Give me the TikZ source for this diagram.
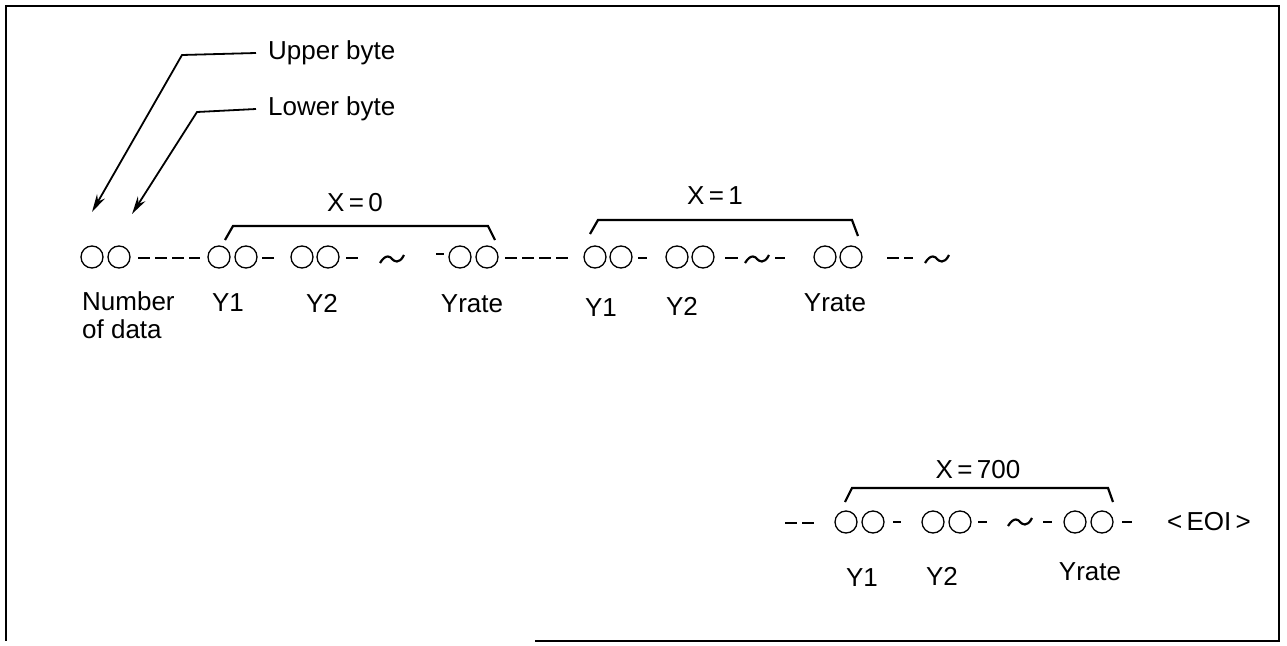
\documentclass[tikz,border=0pt]{standalone}
\usepackage{fontspec}
\setmainfont{Liberation Sans}
\usetikzlibrary{arrows.meta}
\begin{document}
\begin{tikzpicture}[x=1pt,y=-1pt,
  lbl/.style={font=\fontsize{26}{28}\selectfont, inner sep=0pt},
  byte/.style={circle, draw, line width=1.3pt, minimum size=22pt, inner sep=0pt},
  sep/.style={line width=2.4pt},
  sepd/.style={line width=2.4pt, dash pattern=on 12pt off 5pt},
  lead/.style={line width=1.8pt},
  arr/.style={lead, -{Stealth[length=18pt,width=9pt]}},
  brk/.style={line width=2.2pt},
  tld/.style={line width=2.2pt},
  frame/.style={line width=2pt}]
\useasboundingbox (0,0) rectangle (1287,645);
% frame
\draw[frame] (535,641) -- (1279,641) -- (1279,6) -- (6,6) -- (6,641);

% leader labels
\node[lbl, anchor=west] (ub) at (268,53) {Upper byte};
\node[lbl, anchor=west] (lb) at (268,109) {Lower byte};
\coordinate (ubc) at (182,55);
\coordinate (ubt) at (92,212);
\coordinate (lbc) at (197,112);
\coordinate (lbt) at (132,214);
\draw[arr] ([xshift=-12pt]ub.west) -- (ubc) -- (ubt);
\draw[arr] ([xshift=-12pt]lb.west) -- (lbc) -- (lbt);

% row 1 circles
\foreach \n/\x in {1/92,2/119,3/219,4/246,5/302,6/328,7/460,8/487,9/595,10/621,11/677,12/703,13/825,14/851}
  \node[byte] (c\n) at (\x,257) {};
% row 1 separators
\draw[sepd] (138,258) -- (200,258);
\draw[sep] (262,258) -- (274,258);
\draw[sep] (346,258) -- (358,258);
\draw[sep] (436,254) -- (444,254);
\draw[sepd] (505,258) -- (570,258);
\draw[sep] (638,258) -- (647,258);
\draw[sep] (725,258) -- (738,258);
\draw[sep] (775,258) -- (785,258);
\draw[sepd] (887,258) -- (913,258);
% tildes
\foreach \x in {392,757,937}
  \draw[tld] (\x-12,263) .. controls (\x-6,253) and (\x-1,257) .. (\x,259) .. controls (\x+2,261) and (\x+7,265) .. (\x+12,255);

% row 1 labels
\node[lbl, anchor=west, align=left] (nd) at (82,315) {Number\\of data};
\node[lbl] (y11) at (228,303) {Y1};
\node[lbl] (y12) at (322,303) {Y2};
\node[lbl] (y1r) at (472,304) {Yrate};
\node[lbl] (y21) at (601,308) {Y1};
\node[lbl] (y22) at (682,306) {Y2};
\node[lbl] (y2r) at (835,303) {Yrate};

% brackets row 1
\node[lbl] (x0) at (355,203) {X\,=\,0};
\draw[brk] (225,240) -- (233,226) -- (488,226) -- (495,240);
\node[lbl] (x1) at (715,196) {X\,=\,1};
\draw[brk] (590,234) -- (598,220) -- (852,220) -- (858,236);

% row 2
\draw[sepd] (785,523) -- (815,523);
\foreach \n/\x in {15/846,16/873,17/933,18/960,19/1075,20/1102}
  \node[byte] (c\n) at (\x,522) {};
\draw[sep] (893,522) -- (901,522);
\draw[sep] (978,522) -- (987,522);
\draw[sep] (1043,522) -- (1052,522);
\draw[sep] (1122,522) -- (1132,522);
\draw[tld] (1008,526) .. controls (1014,516) and (1019,520) .. (1020,522) .. controls (1022,524) and (1027,528) .. (1032,518);
\node[lbl] (eoi) at (1209,522) {<\,EOI\,>};
\node[lbl] (x7) at (978,470) {X\,=\,700};
\draw[brk] (845,502) -- (852,488) -- (1108,488) -- (1113,502);
\node[lbl] (y31) at (862,578) {Y1};
\node[lbl] (y32) at (942,576) {Y2};
\node[lbl] (y3r) at (1090,572) {Yrate};
\end{tikzpicture}
\end{document}
